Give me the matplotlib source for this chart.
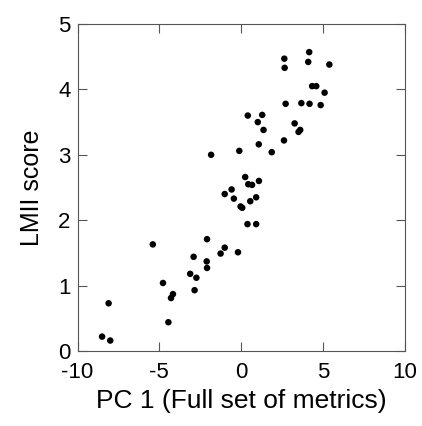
import matplotlib
matplotlib.use("Agg")
import matplotlib.pyplot as plt

pc1 = [-8.50, -8.00, -8.10, -5.40, -4.78, -4.45, -4.29, -4.17, -3.12, -2.91,
       -2.74, -2.85, -2.09, -2.11, -2.09, -1.84, -1.26, -1.01, -1.01, -0.59,
       -0.45, -0.20, -0.12, -0.04, 0.06, 0.24, 0.43, 0.66, 0.38, 0.40,
       0.55, 0.91, 0.91, 1.01, 1.07, 1.08, 1.28, 1.36, 1.86, 2.63,
       2.65, 2.71, 2.61, 3.26, 3.50, 3.60, 3.67, 4.09, 4.15, 4.17,
       4.33, 4.58, 4.85, 5.09, 5.38]
lmii = [0.22, 0.16, 0.73, 1.63, 1.04, 0.44, 0.81, 0.87, 1.18, 1.44,
        1.12, 0.93, 1.71, 1.37, 1.27, 3.00, 1.49, 1.58, 2.40, 2.47,
        2.33, 1.51, 3.06, 2.21, 2.19, 2.66, 2.55, 2.54, 1.94, 3.60,
        2.29, 2.35, 1.94, 3.50, 3.16, 2.60, 3.61, 3.38, 3.04, 4.47,
        4.33, 3.78, 3.22, 3.48, 3.35, 3.38, 3.79, 4.42, 4.57, 3.78,
        4.05, 4.05, 3.76, 3.95, 4.38]
xticks = [-10, -5, 0, 5, 10]
yticks = [0, 1, 2, 3, 4, 5]

plt.rcParams['font.family'] = ['Liberation Sans', 'DejaVu Sans']

fig = plt.figure(figsize=(4.22, 4.26), dpi=100)
ax = fig.add_axes([77.5/422, 75/426, (405-77.5)/422, (351-24)/426])
ax.scatter(pc1, lmii, s=22, color='black', edgecolors='none', zorder=3)
ax.set_xlim(-10, 10)
ax.set_ylim(0, 5)
ax.set_xticks(xticks)
ax.set_yticks(yticks)
ax.set_xticklabels([str(t) for t in xticks])
ax.set_yticklabels([str(t) for t in yticks])
ax.tick_params(direction='in', length=6.5, width=0.8, color='#555555',
               top=True, right=True, labelsize=16)
ax.tick_params(axis='x', pad=8)
ax.tick_params(axis='y', pad=5)
for s in ax.spines.values():
    s.set_color('#555555')
    s.set_linewidth(0.8)
ax.set_xlabel('PC 1 (Full set of metrics)', fontsize=19, labelpad=4)
ax.set_ylabel('LMII score', fontsize=18, labelpad=10)
fig.savefig('out.png', dpi=100)
